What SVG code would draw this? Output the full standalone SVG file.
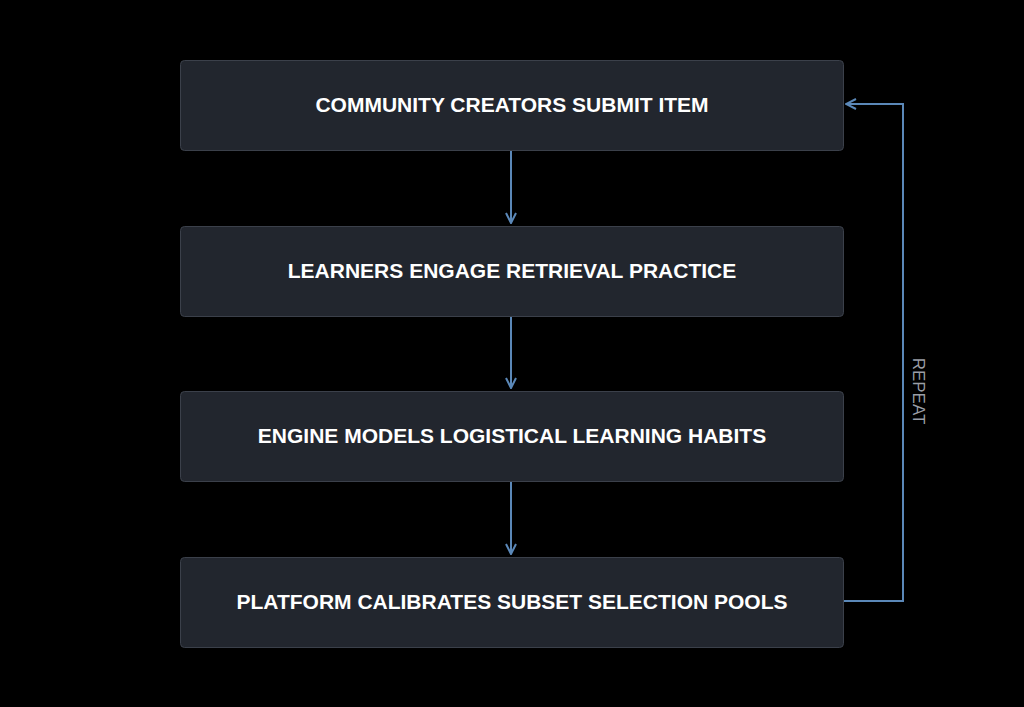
<svg xmlns="http://www.w3.org/2000/svg" width="1024" height="707" viewBox="0 0 1024 707">
<defs>
<style>
.box{fill:#22262e;stroke:#3b404a;stroke-width:1}
.lbl{font-family:"Liberation Sans",Arial,sans-serif;font-weight:bold;font-size:21px;fill:#ffffff;text-anchor:middle}
.edge{fill:none;stroke:#5b88b8;stroke-width:2}
.rep{font-family:"Liberation Sans",Arial,sans-serif;font-size:17px;fill:#9a9ea6;text-anchor:middle}
</style>
<marker id="ah" viewBox="0 0 12 12" refX="11" refY="6" markerWidth="12" markerHeight="12" markerUnits="userSpaceOnUse" orient="auto">
<path d="M1,1 L11,6 L1,11" fill="none" stroke="#5b88b8" stroke-width="2"/>
</marker>
</defs>
<rect width="1024" height="707" fill="#000000"/>
<g id="connectors">
<path class="edge" d="M511,150 V223" marker-end="url(#ah)"/>
<path class="edge" d="M511,316 V388" marker-end="url(#ah)"/>
<path class="edge" d="M511,481 V554" marker-end="url(#ah)"/>
<path class="edge" d="M843,601 H903 V104 H846" marker-end="url(#ah)"/>
<text class="rep" transform="translate(919,391) rotate(90)" dy="6">REPEAT</text>
</g>
<g id="n1"><rect class="box" x="180.5" y="60.5" width="663" height="90" rx="4"/><text class="lbl" x="512" y="111.5">COMMUNITY CREATORS SUBMIT ITEM</text></g>
<g id="n2"><rect class="box" x="180.5" y="226.5" width="663" height="90" rx="4"/><text class="lbl" x="512" y="277.5">LEARNERS ENGAGE RETRIEVAL PRACTICE</text></g>
<g id="n3"><rect class="box" x="180.5" y="391.5" width="663" height="90" rx="4"/><text class="lbl" x="512" y="442.5">ENGINE MODELS LOGISTICAL LEARNING HABITS</text></g>
<g id="n4"><rect class="box" x="180.5" y="557.5" width="663" height="90" rx="4"/><text class="lbl" x="512" y="608.5">PLATFORM CALIBRATES SUBSET SELECTION POOLS</text></g>
</svg>
